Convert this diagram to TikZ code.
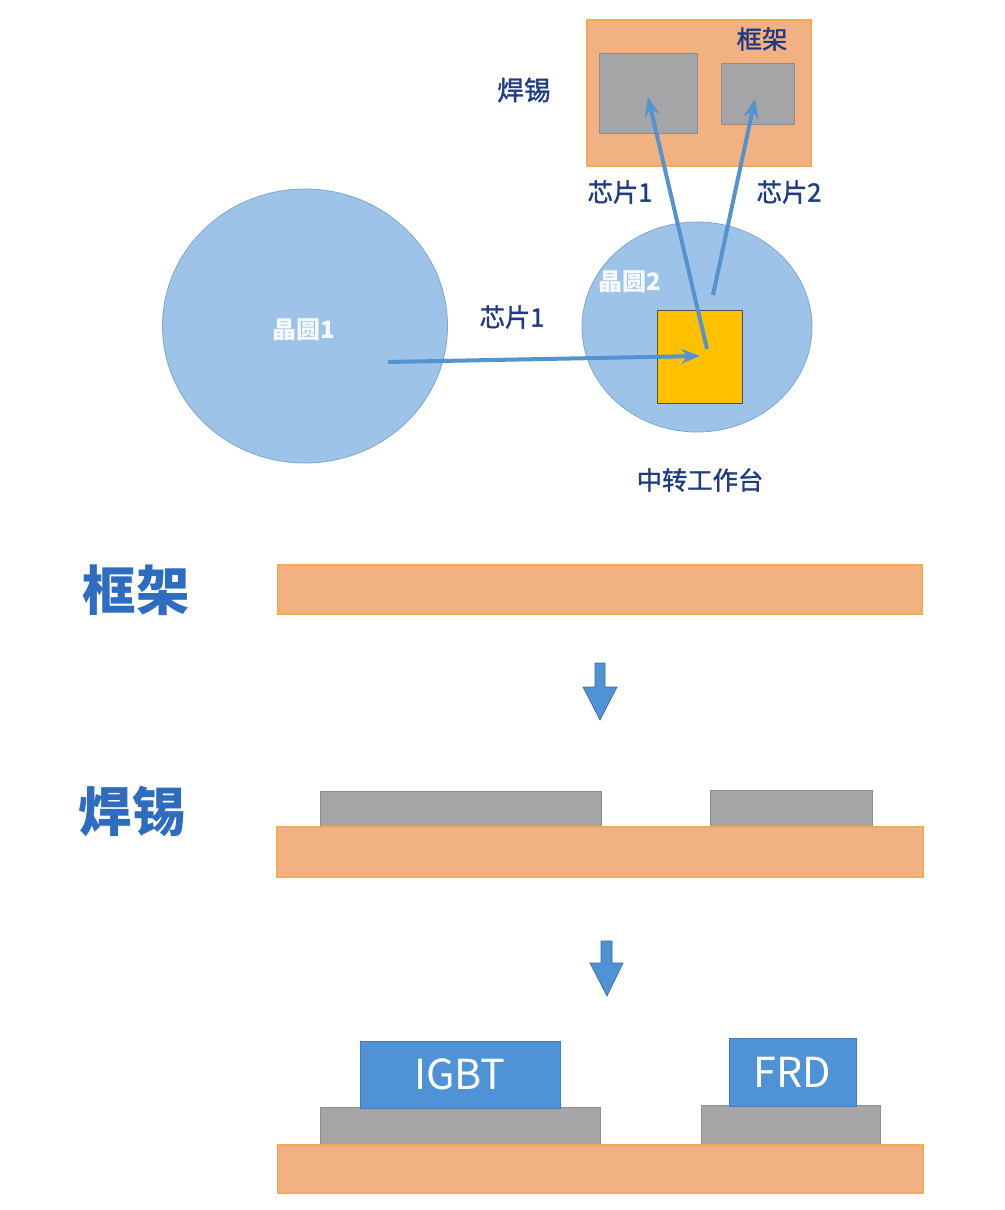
\documentclass[tikz,border=0pt]{standalone}
\usepackage{fontspec}
\setmainfont{Noto Sans CJK SC}
\newfontfamily\cjkmed{Noto Sans CJK SC}[FakeBold=1.3]
\usetikzlibrary{shapes.geometric,fit,arrows.meta}
\definecolor{orfill}{HTML}{F2B183}
\definecolor{ordraw}{HTML}{F3AA55}
\definecolor{grfill}{HTML}{A5A5A7}
\definecolor{grdraw}{HTML}{8E8E90}
\definecolor{chipblue}{HTML}{4F92D6}
\definecolor{waferc}{HTML}{9DC3E9}
\definecolor{waferdraw}{HTML}{7FA6D2}
\definecolor{arrowblue}{HTML}{5593CF}
\definecolor{navy}{HTML}{1F3C82}
\definecolor{titleblue}{HTML}{2E6CC0}
\definecolor{chipyellow}{HTML}{FFC000}
\begin{document}
\begin{tikzpicture}[x=0.75pt,y=-0.75pt,
  frame/.style={fill=orfill, draw=ordraw, line width=0.8pt, inner sep=0pt},
  solder/.style={fill=grfill, draw=grdraw, line width=0.6pt, inner sep=0pt},
  die/.style={fill=chipblue, draw=chipblue!85!black, line width=0.5pt, inner sep=0pt},
  dielbl/.style={text=white, inner sep=0pt, font=\fontsize{31}{31}\selectfont},
  wafer/.style={ellipse, fill=waferc, draw=waferdraw, line width=0.6pt, inner sep=0pt},
  small/.style={text=navy, font=\cjkmed\fontsize{19}{19}\selectfont, inner sep=0pt},
  big/.style={text=titleblue, font=\bfseries\fontsize{40}{40}\selectfont, inner sep=0pt},
  waferlbl/.style={text=white!92!waferc, font=\bfseries\fontsize{18}{18}\selectfont, inner sep=0pt},
  move/.style={draw=arrowblue, line width=3pt, -{Stealth[length=14pt,width=11pt]}},
  downarrow/.style={fill=chipblue, draw=chipblue!75!black, line width=0.5pt}
]
\fill[white] (0,0) rectangle (1004,1210);
\useasboundingbox (0,0) rectangle (1004,1210);

% ---------- top: pick and place ----------
\node[frame, fit={(587,20)(811,166)}] (topframe) {};
\node[solder, fit={(599,53)(697,133)}] (topsolder1) {};
\node[solder, fit={(721,63)(794,124)}] (topsolder2) {};
\node[small] (lblframe) at (762,39) {框架};
\node[small, font=\cjkmed\fontsize{20}{20}\selectfont] (lblsolder) at (524,90) {焊锡};
\node[small] (lblchip1top) at (620,192) {芯片1};
\node[small] (lblchip2top) at (789,192) {芯片2};

\node[wafer, minimum width=213.75pt, minimum height=205.5pt] (wafer1) at (305,326) {};
\node[waferlbl] (w1lbl) at (304,330) {晶圆1};
\node[wafer, minimum width=172.5pt, minimum height=157.5pt] (wafer2) at (697,327) {};
\node[waferlbl] (w2lbl) at (630,282) {晶圆2};
\node[fill=chipyellow, draw=black!70, line width=0.6pt, inner sep=0pt, fit={(657,310)(742,403)}] (stage) {};
\node[small] (lblchip1mid) at (512,317) {芯片1};
\node[small] (lblstage) at (700,480) {中转工作台};

\coordinate (a1s) at (388,362);
\coordinate (a1e) at (700,356);
\coordinate (a2s) at (707,349);
\coordinate (a2e) at (648,97);
\coordinate (a3s) at (713,295);
\coordinate (a3e) at (755,99);
\draw[move] (a1s) -- (a1e);
\draw[move] (a2s) -- (a2e);
\draw[move] (a3s) -- (a3e);

% ---------- step 1: frame ----------
\node[big] (title1) at (136,590) {框架};
\node[frame, fit={(278,565)(922,614)}] (bar1) {};
\draw[downarrow] (595,663) -- (605,663) -- (605,687) -- (617,687) -- (600,720) -- (583,687) -- (595,687) -- cycle;

% ---------- step 2: solder ----------
\node[big] (title2) at (132,811) {焊锡};
\node[solder, fit={(320,791)(601,828)}] (s2a) {};
\node[solder, fit={(710,790)(872,827)}] (s2b) {};
\node[frame, fit={(277,827)(923,877)}] (bar2) {};
\draw[downarrow] (601,941) -- (612,941) -- (612,963) -- (623,963) -- (607,996) -- (590,963) -- (601,963) -- cycle;

% ---------- step 3: chips ----------
\node[solder, fit={(320,1107)(600,1145)}] (s3a) {};
\node[solder, fit={(701,1105)(880,1145)}] (s3b) {};
\node[frame, fit={(278,1145)(923,1193)}] (bar3) {};
\node[die, fit={(360,1041)(560,1108)}] (igbt) {};
\node[die, fit={(729,1038)(856,1106)}] (frd) {};
\node[dielbl] (igbtlbl) at (igbt.center) {IGBT};
\node[dielbl] (frdlbl) at (frd.center) {FRD};
\end{tikzpicture}
\end{document}
